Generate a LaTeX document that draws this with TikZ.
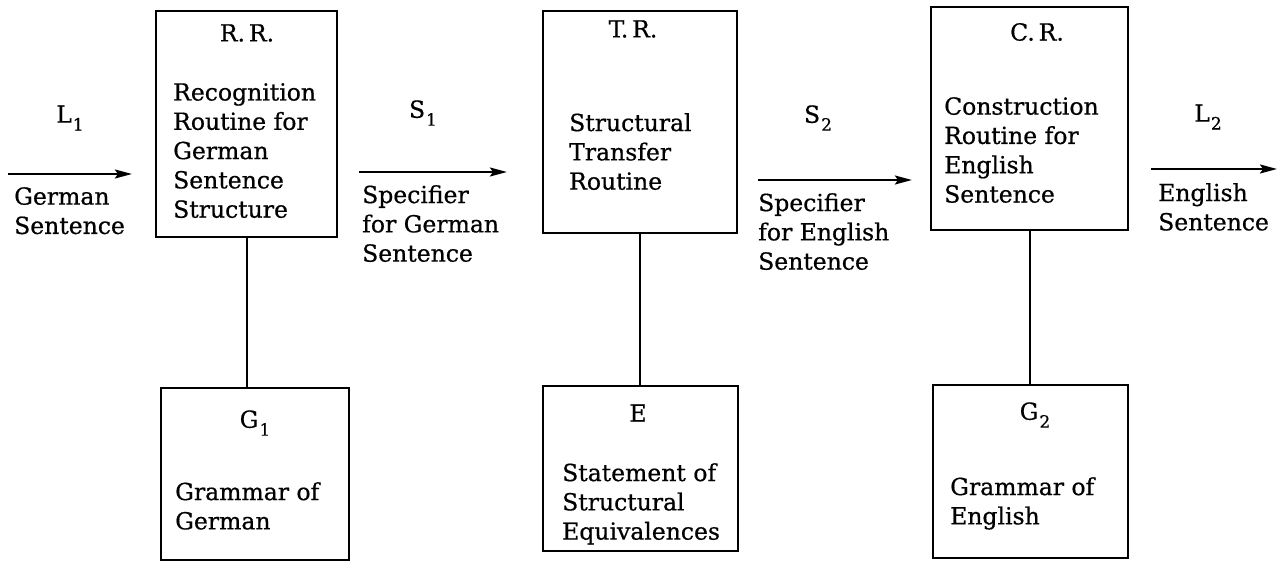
\documentclass[tikz,border=0pt]{standalone}
\usepackage{fontspec}
\setmainfont{DejaVu Serif}[FakeBold=0.6]
\usetikzlibrary{arrows.meta}
\newcommand\subidx[1]{\kern1pt\raisebox{-0.65ex}{\fontsize{17}{17}\selectfont #1}}
\tikzset{
  box/.style={draw, line width=2.2pt, inner sep=0pt},
  txt/.style={inner sep=0pt, align=left, anchor=north west, font=\fontsize{23.5}{29.3}\selectfont},
  ttl/.style={inner sep=0pt, anchor=center, font=\fontsize{23.5}{29.3}\selectfont},
  conn/.style={line width=2pt},
  arr/.style={line width=2pt, -{Stealth[length=17pt,width=9pt,inset=3pt]}}
}
\begin{document}
\begin{tikzpicture}[x=1pt,y=-1pt]
\useasboundingbox[fill=white] (0,0) rectangle (1286,561);
% boxes
\node[box, minimum width=181pt, minimum height=226pt] (rr) at (246.5,124) {};
\node[box, minimum width=194pt, minimum height=222pt] (tr) at (640,122) {};
\node[box, minimum width=197pt, minimum height=223pt] (cr) at (1029.5,118.5) {};
\node[box, minimum width=188pt, minimum height=172pt] (g1) at (255,474) {};
\node[box, minimum width=195pt, minimum height=165pt] (e) at (640.5,468.5) {};
\node[box, minimum width=195pt, minimum height=173pt] (g2) at (1030.5,471.5) {};
% box texts
\node[ttl] (rrt) at (247,33) {R.\,R.};
\node[txt] (rrb) at (173,83) {Recognition\\Routine for\\German\\Sentence\\Structure};
\node[ttl] (trt) at (633,29) {T.\,R.};
\node[txt] (trb) at (569,113) {Structural\\Transfer\\Routine};
\node[ttl] (crt) at (1037,32) {C.\,R.};
\node[txt] (crb) at (944,97) {Construction\\Routine for\\English\\Sentence};
\node[ttl] (g1t) at (255,423) {G\subidx{1}};
\node[txt] (g1b) at (175,482) {Grammar of\\German};
\node[ttl] (et) at (638,413) {E};
\node[txt] (eb) at (562,463) {Statement of\\Structural\\Equivalences};
\node[ttl] (g2t) at (1035,415) {G\subidx{2}};
\node[txt] (g2b) at (950,477) {Grammar of\\English};
% vertical connectors
\draw[conn] (rr.south) -- (rr.south |- g1.north);
\draw[conn] (tr.south) -- (tr.south |- e.north);
\draw[conn] (cr.south) -- (cr.south |- g2.north);
% arrows
\coordinate (in) at (8,174);
\draw[arr, shorten >=23pt] (in) -- (in -| rr.west);
\coordinate (s1a) at (337,172);
\draw[arr, shorten <=21pt, shorten >=35pt] (s1a -| rr.east) -- (s1a -| tr.west);
\coordinate (s2a) at (737,180);
\draw[arr, shorten <=20pt, shorten >=18pt] (s2a -| tr.east) -- (s2a -| cr.west);
\coordinate (out) at (1277,169);
\draw[arr, shorten <=22pt] (out -| cr.east) -- (out);
% labels
\node[ttl] (l1) at (70,118) {L\subidx{1}};
\node[txt] (l1b) at (14,187) {German\\Sentence};
\node[ttl] (s1) at (423,113) {S\subidx{1}};
\node[txt] (s1b) at (362,185) {Specifier\\for German\\Sentence};
\node[ttl] (s2) at (818,118) {S\subidx{2}};
\node[txt] (s2b) at (758,193) {Specifier\\for English\\Sentence};
\node[ttl] (l2) at (1208,117) {L\subidx{2}};
\node[txt] (l2b) at (1158,183) {English\\Sentence};
\end{tikzpicture}
\end{document}
